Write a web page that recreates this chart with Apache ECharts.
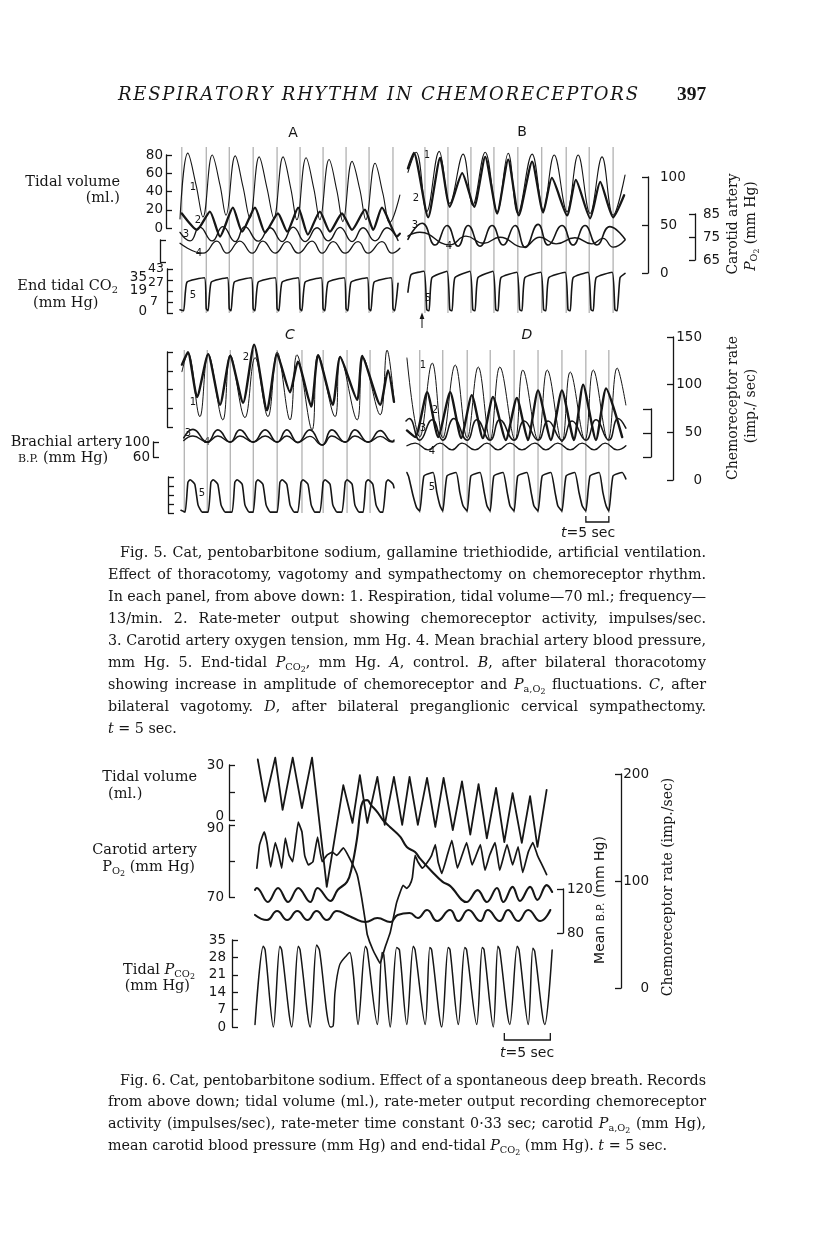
<!DOCTYPE html>
<html><head><meta charset="utf-8">
<script src="https://cdn.jsdelivr.net/npm/echarts@6.0.0/dist/echarts.min.js"></script>
<style>html,body{margin:0;padding:0;background:#fff}#c{width:816px;height:1258px}</style>
</head><body><div id="c"></div>
<script>
// ================= DATA (time in s, values in record units) =================
// Fig. 5 cycle marks
const A_MARKS = [0.4, 5.7, 10.7, 15.9, 21.1, 26.1, 31.1, 36.1, 41.1, 46.3];
const B_MARKS = [3.9, 8.9, 13.9, 18.9, 24.1, 29.3, 34.6, 39.6, 44.8];
const C_MARKS = [0.7, 5.7, 10.7, 15.7, 20.9, 26.3, 30.9, 36.1, 41.1];
const D_MARKS = [3.0, 8.0, 13.3, 18.3, 23.5, 28.7, 33.9, 39.1, 44.1];
// Panel A
const A_TV = [[0,10],[1.7,82],[3.5,47],[5.0,12],[7.0,80],[8.7,47],[10.0,14],[12.0,79],[13.7,45],[15.2,11],[17.2,78],[18.9,44],[20.4,11],[22.4,78],[24.1,43],[25.4,9],[27.4,77],[29.1,43],[30.4,9],[32.4,75],[34.1,41],[35.4,7],[37.4,73],[39.1,42],[40.4,9],[42.4,71],[44.1,38],[45.6,6],[47.8,36]];
const A_RATE = [[0.4,62],[3.7,45],[6.5,64],[8.7,38],[11.5,68],[13.5,43],[16.3,68],[18.5,42],[21.3,62],[23.3,43],[25.7,68],[27.8,40],[30.4,64],[32.6,43],[35.2,62],[37.4,45],[40.2,66],[42.0,45],[43.9,68],[47.2,38],[47.8,41]];
const A_PO2 = [[0,77],[2.2,73.3],[4.3,79.3],[7.0,73.3],[9.3,79.5],[12.0,73],[14.1,79.5],[17.0,73.2],[19.6,79],[22.2,73],[24.6,79.3],[27.2,73],[29.8,79],[32.2,73.3],[34.8,79.2],[37.4,73],[39.8,79],[42.4,73.3],[45.0,79],[47.4,73.5]];
const A_BP = [[0,94],[5.0,76],[8.0,98],[10.2,76],[13.0,98],[15.7,76],[18.0,98],[20.7,76],[23.3,97],[25.7,76],[28.7,98],[30.9,76],[33.3,97],[35.9,76],[38.7,97],[40.9,76],[43.9,97],[46.1,76],[47.8,85]];
const A_CO2 = [[0,3],[0.8,2],[1.5,28],[5.3,32],[5.7,4],[6.1,2],[6.8,28],[10.3,32],[10.7,4],[11.1,2],[11.8,28],[15.5,32],[15.9,4],[16.3,2],[17.0,28],[20.7,32],[21.1,4],[21.5,2],[22.2,28],[25.7,32],[26.1,4],[26.5,2],[27.2,28],[30.7,32],[31.1,4],[31.5,2],[32.2,28],[35.7,32],[36.1,4],[36.5,2],[37.2,28],[40.7,32],[41.1,4],[41.5,2],[42.2,28],[45.9,32],[46.3,4],[46.7,2],[47.4,27]];
// Panel B
const B_TV = [[0.2,61],[2.0,83],[4.3,18],[7.0,84],[9.3,27],[12.2,81],[14.3,25],[17.0,83],[19.6,18],[22.0,82],[24.1,16],[27.2,81],[29.6,20],[32.0,80],[34.8,18],[37.2,80],[39.8,16],[42.4,78],[44.8,14],[47.4,58]];
const B_RATE = [[0.2,109],[1.5,125],[4.6,58],[7.2,120],[9.3,69],[12.0,104],[14.6,69],[17.0,121],[19.6,62],[22.0,118],[24.3,60],[27.2,116],[29.6,63],[31.5,99],[34.8,60],[36.7,97],[39.8,57],[42.0,95],[44.8,58],[47.2,81]];
const B_PO2 = [[0.2,74],[3.3,81],[6.1,71.5],[8.7,80],[11.1,71],[13.3,80],[15.9,71],[18.5,80],[20.9,71.5],[23.5,80],[25.7,70.5],[28.5,80.5],[30.7,71.5],[33.7,80],[36.1,71.5],[38.7,80],[41.3,71.5],[44.1,79.5],[47.4,74]];
const B_BP = [[0.2,107],[2.8,114],[9.3,91],[12.8,107],[16.7,94],[20.2,105],[25.2,87],[28.9,105],[32.4,93],[36.5,104],[40.2,93],[42.6,103],[44.8,87],[47.4,100]];
const B_CO2 = [[0.2,19],[0.9,35],[3.7,38],[4.3,3],[4.8,2],[5.4,32],[8.7,38],[9.3,3],[9.8,2],[10.4,32],[13.7,38],[14.3,3],[14.8,2],[15.4,32],[18.7,38],[19.3,3],[19.8,2],[20.4,32],[23.9,37],[24.5,3],[25.0,2],[25.6,32],[29.1,37],[29.7,3],[30.2,2],[30.8,32],[34.4,37],[35.0,3],[35.5,2],[36.1,32],[39.4,37],[40.0,3],[40.5,2],[41.1,32],[44.6,37],[45.2,3],[45.7,2],[46.3,32],[47.4,36]];
// Panel C
const C_TV = [[0.2,59],[1.5,79],[4.1,11],[5.9,78],[9.1,7.5],[10.7,77],[13.9,10],[16.1,74],[18.9,11],[20.9,80],[23.7,7.5],[25.2,77],[28.5,-3],[29.8,77],[33.5,11],[34.6,75],[38.3,7.5],[39.6,74],[43.3,13],[44.8,82],[46.3,29]];
const C_RATE = [[0.2,121],[1.5,134],[3.5,87],[5.9,132],[8.5,79],[10.7,130],[13.5,81],[15.9,142],[18.7,73],[20.9,132],[23.7,92],[25.4,124],[28.3,77],[29.8,131],[33.0,79],[34.6,129],[38.3,84],[39.4,130],[43.3,79],[45.0,115],[46.3,82]];
const C_PO2 = [[0.6,73],[2.6,76.5],[5.7,71.2],[8.0,76.3],[10.7,71.2],[12.8,76.3],[15.7,71.2],[18.3,76.3],[20.9,71.2],[23.0,76.3],[25.4,71],[28.0,76.3],[30.7,70],[32.8,76.3],[35.7,71.2],[37.8,76.3],[40.7,71.2],[43.3,76],[45.9,71.5],[46.3,72]];
const C_BP = [[0.6,104],[2.6,116],[5.7,100],[8.0,116],[10.7,100],[12.8,116],[15.7,100],[18.3,116],[20.9,100],[23.0,116],[25.4,99],[28.0,115],[30.7,92],[32.8,116],[35.7,100],[37.8,116],[40.7,100],[43.3,115],[45.9,100],[46.3,101]];
const C_CO2 = [[0,3],[0.9,1],[1.5,34],[2.0,37],[3.0,32],[3.7,9],[4.6,1],[5.9,1],[6.5,34],[7.0,37],[8.0,32],[8.7,9],[9.6,1],[11.1,1],[11.7,34],[12.2,37],[13.3,32],[13.9,9],[14.8,1],[15.7,1],[16.3,34],[16.7,37],[17.8,32],[18.5,9],[19.4,1],[20.9,1],[21.5,34],[22.0,37],[23.0,32],[23.7,9],[24.6,1],[25.4,1],[26.1,34],[26.5,37],[27.6,32],[28.3,9],[29.1,1],[30.2,1],[30.9,34],[31.3,37],[32.4,32],[33.0,9],[33.9,1],[35.0,1],[35.7,34],[36.1,37],[37.2,32],[37.8,9],[38.7,1],[39.6,1],[40.2,34],[40.7,37],[41.7,32],[42.4,9],[43.3,1],[43.9,1],[44.6,34],[45.0,37],[46.1,32],[46.3,28]];
// Panel D
const D_TV = [[0.2,82],[3.0,3],[5.7,77],[8.0,2],[10.7,75],[13.3,2],[15.7,73],[18.3,0],[20.4,73],[23.7,0],[25.4,70],[28.7,0],[30.7,70],[33.9,-2],[35.7,68],[38.9,0],[40.7,70],[43.9,0],[45.9,72],[47.8,35]];
const D_RATE = [[0.2,52],[2.0,45],[4.6,92],[7.0,45],[9.6,92],[12.0,44],[14.3,89],[16.7,44],[18.9,87],[21.7,42],[24.1,86],[26.5,42],[28.7,94],[31.5,42],[33.9,94],[36.5,42],[38.5,100],[41.3,42],[43.5,96],[47.0,45]];
const D_PO2 = [[0,80],[0.7,81],[3.0,72],[5.7,80.5],[8.0,72],[10.4,81],[13.3,72],[15.4,80.5],[18.3,72],[20.4,80.5],[23.5,72],[25.7,80],[28.7,72],[30.9,80],[33.9,72],[36.1,80],[39.1,72],[41.3,80.5],[44.1,72],[46.1,81],[47.8,77]];
const D_BP = [[0.2,90],[2.0,97],[4.8,79],[7.4,97],[10.0,79],[12.2,97],[15.0,79],[17.6,97],[20.0,79],[22.6,97],[25.2,79],[28.0,97],[30.4,79],[33.0,97],[35.7,79],[38.3,97],[40.9,79],[43.3,97],[45.9,79],[47.8,90]];
const D_CO2 = [[0.2,45],[0.6,40],[1.5,20],[2.3,6],[3.0,2],[3.9,41],[5.9,45],[6.7,23],[7.4,8],[8.0,2],[8.9,41],[10.9,45],[11.7,23],[12.4,8],[13.3,2],[14.1,41],[16.1,45],[17.0,23],[17.6,8],[18.3,2],[19.1,41],[21.1,45],[22.0,23],[22.6,8],[23.5,2],[24.3,41],[26.3,45],[27.2,23],[27.8,8],[28.7,2],[29.6,41],[31.5,45],[32.4,23],[33.0,8],[33.9,2],[34.8,41],[36.7,45],[37.6,23],[38.3,8],[39.1,2],[40.0,41],[42.0,45],[42.8,23],[43.5,8],[44.1,2],[45.0,41],[47.0,45],[47.8,38]];
const D_BAR = [39.1, 44.1];
// Fig. 6
const F6_TV = [[0.3,33],[1.1,10],[2.2,34],[3.0,5.5],[4.1,34],[5.1,6.5],[6.2,34],[7.8,-36.5],[9.6,19],[10.6,-1.6],[11.4,24.5],[12.2,-1.6],[13.3,23.5],[14.1,-2.7],[15.1,23.5],[16.0,-2.7],[16.8,23.5],[17.7,-2.7],[18.7,23],[19.6,-3.8],[20.5,23],[21.5,-5.5],[22.5,21],[23.4,-8],[24.3,19.6],[25.2,-10],[26.2,17.5],[27.1,-12],[28.0,14.7],[29.0,-12.5],[29.9,13],[30.7,-14.7],[31.7,16.4]];
const F6_RATE = [[0.2,112],[0.5,134],[1.0,146],[1.3,136],[1.7,113],[2.2,136],[2.6,124],[2.9,112],[3.3,140],[3.7,124],[4.1,118],[4.7,155],[5.1,146],[5.4,124],[5.8,115],[6.3,118],[6.8,141],[7.3,118],[7.8,124],[8.4,127],[8.9,124],[9.6,131],[10.3,121],[11.1,106],[11.6,84],[12.0,62],[12.2,50],[12.8,36],[13.6,23],[14.1,37],[14.7,52],[15.4,80],[16.1,96],[16.5,93],[16.8,96],[17.1,103],[17.4,124],[17.7,118],[18.2,112],[18.7,117],[19.2,124],[19.6,134],[19.9,118],[20.3,107],[20.9,124],[21.4,138],[22.0,112],[22.5,124],[23.0,136],[23.6,115],[23.9,121],[24.5,134],[25.0,110],[25.5,124],[26.1,136],[26.6,110],[27.4,134],[28.0,115],[28.6,132],[29.1,108],[29.7,127],[30.2,136],[30.7,124],[31.2,115],[31.7,106]];
const F6_PO2 = [[0,72],[0.2,72.5],[1.4,68.6],[2.5,72.5],[3.6,68.6],[4.7,72.5],[6.0,68.6],[6.8,72.5],[8.2,68.9],[9.0,72],[10.0,74.2],[10.5,78],[11.1,86.4],[11.4,92.8],[11.7,96.4],[12.2,96.9],[12.6,95.6],[13.3,93.6],[13.9,91.4],[14.7,89.4],[15.8,86.7],[16.5,83.9],[17.4,82.5],[17.9,80.8],[19.3,76.9],[20.4,74.2],[21.2,73.1],[23.0,68.6],[24.2,71.9],[25.2,68.6],[26.3,72.5],[27.0,68.6],[28.0,72.8],[28.8,68.9],[29.9,72.8],[30.7,69.2],[31.7,73.3],[32.3,71.4]];
const F6_BP = [[0,96.4],[1.3,91.8],[2.4,100],[3.5,91.8],[4.6,100],[5.7,91.8],[6.7,100],[7.8,91.8],[8.9,100],[10.0,96.4],[10.7,93.6],[12.0,90],[13.3,93.6],[14.7,90],[15.5,96.4],[16.8,98.2],[17.7,93.6],[18.7,100.9],[19.8,90.9],[21.2,100.9],[22.1,90.9],[23.2,100.9],[24.5,90.9],[25.3,100.9],[26.6,90.9],[27.5,100.9],[28.6,90.9],[29.7,100.9],[31.0,90.9],[32.1,100.9]];
const F6_CO2 = [[0,1],[0.9,32.5],[1.1,31],[2.0,0],[2.7,32.5],[2.9,31],[4.0,0],[4.7,32.5],[4.9,31],[6.0,0],[6.7,33],[7.0,31],[8.2,0],[8.5,0.5],[8.7,14],[9.2,25],[10.0,29],[10.3,30],[10.7,21],[11.2,1],[12.0,32.5],[12.2,31],[13.3,1],[13.8,30],[14.0,29],[14.7,0],[15.4,32],[15.7,31],[16.5,1],[17.2,32.5],[17.4,31],[18.5,1],[19.0,32],[19.2,31],[20.3,0],[21.0,32],[21.2,31],[22.1,1],[22.8,32],[23.0,31],[24.1,1],[24.7,32],[24.9,31],[25.9,0],[26.4,32.5],[26.6,31],[27.7,1],[28.5,32.5],[28.7,31],[29.7,1],[30.2,31.7],[30.4,30.5],[31.5,1],[32.3,31]];
const F6_BAR = [27.1, 32.1];
// Scale ticks
const TICKS_TV_U = [0, 20, 40, 60, 80];
const TICKS_RATE_U = [0, 50, 100];
const TICKS_PO2_U = [65, 75, 85];
const TICKS_BP_U = [60, 100];
const TICKS_CO2_U = [0, 10, 20, 30, 40];
const CO2_U_LABELS = [['35', '43'], ['19', '27'], ['0', '7']];
const TICKS_TV_C = [0, 20, 40, 60, 80];
const TICKS_TV_D = [0, 80];
const TICKS_RATE_L = [0, 50, 100, 150];
const TICKS_PO2_L = [65, 75, 85];
const TICKS_BP_L = [60, 100];
const TICKS_CO2_L = [0, 10, 20, 30, 40];
const TICKS_TV6 = [0, 15, 30];
const TICKS_PO2_6 = [70, 80, 90];
const TICKS_CO2_6 = [0, 7, 14, 21, 28, 35];
const TICKS_BP6 = [80, 120];
const TICKS_RATE6 = [0, 100, 200];

// ================= LAYOUT / DRAWING =================
const INK = '#161616';
const SERIF = '"DejaVu Serif", serif';
const SANS = '"DejaVu Sans", sans-serif';
const TFS = 13.5;
const grids = [], xAxes = [], yAxes = [], series = [], G = [];

function addGrid(o) {
  const i = grids.length;
  grids.push({left: o.left, top: o.top, width: o.width, height: o.bottom - o.top, show: false, containLabel: false});
  xAxes.push({type: 'value', gridIndex: i, min: 0, max: o.tmax, show: false});
  const t = o.ticks;
  const ya = {type: 'value', gridIndex: i, min: t[0], max: t[t.length - 1], interval: t[1] - t[0], show: false, splitLine: {show: false}};
  if (o.axis) {
    const a = o.axis;
    const gx = a.pos === 'left' ? o.left : o.left + o.width;
    ya.show = true; ya.position = a.pos;
    ya.offset = a.pos === 'left' ? gx - a.x : a.x - gx;
    ya.axisLine = {show: true, onZero: false, lineStyle: {color: INK, width: 1.3}};
    ya.axisTick = {show: true, inside: true, length: a.tickLen || 6, lineStyle: {color: INK, width: 1.3}};
    const rich = {up: {fontFamily: 'DejaVu Sans', fontSize: TFS, color: INK, padding: [0, 0, 7, 0]},
                  dn: {fontFamily: 'DejaVu Sans', fontSize: TFS, color: INK, padding: [7, 0, 0, 0]}};
    ya.axisLabel = {show: !!a.labels, margin: a.margin || 4, color: INK, fontFamily: 'DejaVu Sans', fontSize: TFS,
      align: a.align, rich: rich,
      formatter: v => (a.hide && a.hide.indexOf(v) >= 0) ? '' : (a.up && a.up.indexOf(v) >= 0) ? '{up|' + v + '}' : (a.dn && a.dn.indexOf(v) >= 0) ? '{dn|' + v + '}' : String(v)};
  }
  yAxes.push(ya);
  return i;
}
function trace(gi, data, w, smooth) {
  series.push({type: 'line', xAxisIndex: gi, yAxisIndex: gi, data: data, symbol: 'none', showSymbol: false,
    smooth: smooth || false, clip: false, silent: true, animation: false, z: 3,
    lineStyle: {color: INK, width: w, cap: 'round', join: 'round'}});
}
function marks(gi, data) {
  series.push({type: 'custom', xAxisIndex: gi, yAxisIndex: gi, data: data.map(t => [t, 0]), silent: true, animation: false, clip: false, z: 1,
    renderItem: (p, api) => { const cs = p.coordSys; const x = api.coord([api.value(0), 0])[0];
      return {type: 'line', shape: {x1: x, y1: cs.y, x2: x, y2: cs.y + cs.height}, style: {stroke: '#8e8e8e', lineWidth: 0.9}}; }});
}
function timeBar(gi, span) {
  series.push({type: 'custom', xAxisIndex: gi, yAxisIndex: gi, data: [[span[0], span[1]]], silent: true, animation: false, clip: false,
    renderItem: (p, api) => { const cs = p.coordSys; const x0 = api.coord([api.value(0), 0])[0]; const x1 = api.coord([api.value(1), 0])[0];
      return {type: 'polyline', shape: {points: [[x0, cs.y], [x0, cs.y + cs.height], [x1, cs.y + cs.height], [x1, cs.y]]}, style: {stroke: INK, lineWidth: 1.3, fill: null}}; }});
}

// ---- text helpers ----
const cx2 = document.createElement('canvas').getContext('2d');
function fstr(f) { return (f.style || 'normal') + ' ' + (f.weight || 'normal') + ' ' + f.size.toFixed(2) + 'px ' + f.family; }
function tw(t, f) { cx2.font = fstr(f); return cx2.measureText(t).width; }
function parseWord(w, base) {
  const runs = []; const re = /~([^~]+)~|_\{([^}]*)\}|#\{([^}]*)\}|!\{([^}]*)\}|([^~_#!]+)/g; let m;
  while ((m = re.exec(w))) {
    if (m[1] !== undefined) runs.push({t: m[1], f: Object.assign({}, base, {style: 'italic'}), dy: 0});
    else if (m[2] !== undefined) runs.push({t: m[2], f: Object.assign({}, base, {size: base.size * 0.68}), dy: base.size * 0.28});
    else if (m[3] !== undefined) runs.push({t: m[3], f: Object.assign({}, base, {size: base.size * 0.55}), dy: base.size * 0.46});
    else if (m[4] !== undefined) runs.push({t: m[4], f: Object.assign({}, base, {size: base.size * 0.76}), dy: base.size * 0.1});
    else runs.push({t: m[5], f: base, dy: 0});
  }
  return runs;
}
function natW(text, base) {
  const words = text.split(' ');
  return words.map(w => parseWord(w, base).reduce((s, q) => s + tw(q.t, q.f), 0)).reduce((a, b) => a + b, 0) + tw(' ', base) * (words.length - 1);
}
function fit(text, family, target, extra) { const b = Object.assign({size: 20, family: family}, extra || {}); b.size = 20 * target / natW(text, b); return b; }
function layout(text, base, opt, out) {
  const words = text.split(' ');
  const W = words.map(w => parseWord(w, base));
  const ww = W.map(r => r.reduce((s, q) => s + tw(q.t, q.f), 0));
  const sumw = ww.reduce((a, b) => a + b, 0);
  let gap = tw(' ', base);
  if (opt.x1 !== undefined && words.length > 1) gap = (opt.x1 - opt.x - sumw) / (words.length - 1);
  const total = sumw + gap * (words.length - 1);
  let x = opt.x;
  if (opt.align === 'right') x = opt.x - total; else if (opt.align === 'center') x = opt.x - total / 2;
  W.forEach(runs => {
    runs.forEach(r => { out.push({type: 'text', x: x, y: opt.y + r.dy, silent: true,
      style: {text: r.t, font: fstr(r.f), fill: INK, align: 'left', verticalAlign: 'middle'}}); x += tw(r.t, r.f); });
    x += gap;
  });
}
function spaced(text, f, x0, x1, y) {
  const ch = text.split(''); const ws = ch.map(c => tw(c, f)); const tot = ws.reduce((a, b) => a + b, 0);
  const ls = (x1 - x0 - tot) / (ch.length - 1); let x = x0;
  ch.forEach((c, i) => { if (c !== ' ') G.push({type: 'text', x: x, y: y, silent: true, style: {text: c, font: fstr(f), fill: INK, align: 'left', verticalAlign: 'middle'}}); x += ws[i] + ls; });
}
function rotated(text, base, cx, cy) {
  const kids = []; layout(text, base, {x: 0, y: 0, align: 'center'}, kids);
  G.push({type: 'group', x: cx, y: cy, rotation: Math.PI / 2, silent: true, children: kids});
}
function txt(text, x, y, f, align) { layout(text, f, {x: x, y: y, align: align || 'left'}, G); }

// ---------- Fig. 5 panels ----------
const W5 = 48 * 4.6;
function P(left) { return {left: left, width: W5, tmax: 48}; }
const pA = P(180), pB = P(407), pC = P(181), pD = P(406);
function G5(p, top, bottom, ticks, axis) { return addGrid(Object.assign({}, p, {top: top, bottom: bottom, ticks: ticks, axis: axis})); }

// A
marks(G5(pA, 147, 313, [0, 1]), A_MARKS);
trace(G5(pA, 155, 228, TICKS_TV_U, {pos: 'left', x: 166, labels: true, margin: 3}), A_TV, 1.1, 0.4);
trace(G5(pA, 177, 273, TICKS_RATE_U), A_RATE, 2.3, 0.2);
trace(G5(pA, 214, 260, TICKS_PO2_U), A_PO2, 1.4, 0.5);
trace(G5(pA, 240, 262, TICKS_BP_U, {pos: 'left', x: 160}), A_BP, 1.3, 0.5);
trace(G5(pA, 269, 313, TICKS_CO2_U, {pos: 'left', x: 167}), A_CO2, 1.6, 0.15);
// B
marks(G5(pB, 147, 313, [0, 1]), B_MARKS);
trace(G5(pB, 155, 228, TICKS_TV_U), B_TV, 1.1, 0.4);
trace(G5(pB, 177, 273, TICKS_RATE_U, {pos: 'right', x: 648, labels: true, margin: 12}), B_RATE, 2.3, 0.2);
trace(G5(pB, 214, 260, TICKS_PO2_U, {pos: 'right', x: 695, labels: true, margin: 8}), B_PO2, 1.6, 0.5);
trace(G5(pB, 240, 262, TICKS_BP_U), B_BP, 1.4, 0.5);
trace(G5(pB, 269, 313, TICKS_CO2_U), B_CO2, 1.6, 0.15);
// C
marks(G5(pC, 350, 513, [0, 1]), C_MARKS);
trace(G5(pC, 352, 427, TICKS_TV_C, {pos: 'left', x: 167}), C_TV, 1.0, 0.4);
trace(G5(pC, 337, 480, TICKS_RATE_L), C_RATE, 2.4, 0.2);
trace(G5(pC, 409, 457, TICKS_PO2_L), C_PO2, 1.6, 0.5);
trace(G5(pC, 442, 457, TICKS_BP_L, {pos: 'left', x: 153, labels: true, margin: 3}), C_BP, 1.4, 0.5);
trace(G5(pC, 477, 513, TICKS_CO2_L, {pos: 'left', x: 168}), C_CO2, 1.6, 0.15);
// D
marks(G5(pD, 350, 513, [0, 1]), D_MARKS);
trace(G5(pD, 360, 440, TICKS_TV_D), D_TV, 1.0, 0.4);
trace(G5(pD, 337, 480, TICKS_RATE_L, {pos: 'right', x: 673, labels: true, margin: 29, align: 'right'}), D_RATE, 2.4, 0.2);
trace(G5(pD, 409, 457, TICKS_PO2_L, {pos: 'right', x: 651, tickLen: 8}), D_PO2, 1.5, 0.5);
trace(G5(pD, 442, 457, TICKS_BP_L), D_BP, 1.4, 0.5);
trace(G5(pD, 477, 513, TICKS_CO2_L), D_CO2, 1.6, 0.15);
timeBar(G5(pD, 516, 522, [0, 1]), D_BAR);

// ---------- Fig. 6 ----------
const p6 = {left: 255, width: 33.5 * 9.2, tmax: 33.5};
function G6(top, bottom, ticks, axis) { return addGrid(Object.assign({}, p6, {top: top, bottom: bottom, ticks: ticks, axis: axis})); }
trace(G6(765, 820, TICKS_TV6, {pos: 'left', x: 229, labels: true, margin: 5, hide: [15], up: [0]}), F6_TV, 1.8, false);
trace(G6(774, 988, TICKS_RATE6, {pos: 'right', x: 621, labels: true, margin: 28, align: 'right'}), F6_RATE, 1.7, 0.1);
trace(G6(825, 897, TICKS_PO2_6, {pos: 'left', x: 229, labels: true, margin: 5, hide: [80], dn: [90]}), F6_PO2, 2.1, 0.4);
trace(G6(889, 933, TICKS_BP6, {pos: 'right', x: 563, labels: true, margin: 4}), F6_BP, 2.1, 0.5);
trace(G6(940, 1027, TICKS_CO2_6, {pos: 'left', x: 232, labels: true, margin: 6}), F6_CO2, 1.5, 0.3);
timeBar(G6(1033, 1040, [0, 1]), F6_BAR);

// ---------- Texts ----------
const FT = {size: 14, family: SANS};
const FN = {size: 10, family: SANS};
const FL = {size: 14.5, family: SERIF};
const FR = {size: 14, family: SERIF};
spaced('RESPIRATORY RHYTHM IN CHEMORECEPTORS', {style: 'italic', size: 18, family: SERIF}, 118, 638, 95);
txt('397', 677, 95, {weight: 'bold', size: 19.5, family: '"Liberation Serif", serif'});
txt('A', 293, 133, FT, 'center'); txt('B', 522, 132, FT, 'center');
txt('~C~', 290, 335, FT, 'center'); txt('~D~', 527, 335, FT, 'center');
// Fig 5 left labels
txt('Tidal volume', 120, 182, FL, 'right');
txt('(ml.)', 120, 198, FL, 'right');
txt('End tidal CO_{2}', 118, 286, FL, 'right');
txt('(mm Hg)', 33, 303, FL);
txt('Brachial artery', 122, 442, FL, 'right');
txt('!{B.P.} (mm Hg)', 18, 458, FL);
const co2Y = [[277, 269], [290, 283], [311, 302]];
CO2_U_LABELS.forEach((pr, i) => { txt(pr[0], 147, co2Y[i][0], {size: 13.5, family: SANS}, 'right'); txt(pr[1], i === 2 ? 150 : 148, co2Y[i][1], {size: 12.5, family: SANS}); });
// trace numbers
[['1',193,187],['2',198,220],['3',186,234],['4',199,253],['5',193,295],
 ['1',427,155],['2',416,198],['3',415,225],['4',449,246],['5',428,298],
 ['1',193,402],['2',246,357],['3',188,433],['4',207,442],['5',202,493],
 ['1',423,365],['2',435,410],['3',423,428],['4',432,451],['5',432,487]].forEach(a => txt(a[0], a[1], a[2], FN, 'center'));
// arrow under B
G.push({type: 'line', silent: true, shape: {x1: 422, y1: 316, x2: 422, y2: 328}, style: {stroke: INK, lineWidth: 1}});
G.push({type: 'polygon', silent: true, shape: {points: [[419.6, 319], [422, 312.5], [424.4, 319]]}, style: {fill: INK}});
// rotated right labels
rotated('Carotid artery', FR, 733, 224);
rotated('~P~_{O}#{2} (mm Hg)', FR, 751, 226);
rotated('Chemoreceptor rate', FR, 733, 408);
rotated('(imp./ sec)', FR, 751, 406);
txt('~t~=5 sec', 588, 533, FT, 'center');
// Fig 5 caption
const CAP5 = [
  'Fig. 5. Cat, pentobarbitone sodium, gallamine triethiodide, artificial ventilation.',
  'Effect of thoracotomy, vagotomy and sympathectomy on chemoreceptor rhythm.',
  'In each panel, from above down: 1. Respiration, tidal volume\u201470 ml.; frequency\u2014',
  '13/min. 2. Rate-meter output showing chemoreceptor activity, impulses/sec.',
  '3. Carotid artery oxygen tension, mm Hg. 4. Mean brachial artery blood pressure,',
  'mm Hg. 5. End-tidal ~P~_{CO}#{2}, mm Hg. ~A~, control. ~B~, after bilateral thoracotomy',
  'showing increase in amplitude of chemoreceptor and ~P~_{a,O}#{2} fluctuations. ~C~, after',
  'bilateral vagotomy. ~D~, after bilateral preganglionic cervical sympathectomy.',
  '~t~ = 5 sec.'];
const FCAP = fit(CAP5[0], SERIF, 706 - 120 - 6);
CAP5.forEach((l, i) => layout(l, FCAP, {x: i === 0 ? 120 : 108, x1: i < 8 ? 706 : undefined, y: 553 + 22 * i}, G));
// Fig 6 labels
txt('Tidal volume', 197, 777, FL, 'right');
txt('(ml.)', 108, 794, FL);
txt('Carotid artery', 197, 850, FL, 'right');
txt('P_{O}#{2} (mm Hg)', 195, 867, FL, 'right');
txt('Tidal ~P~_{CO}#{2}', 195, 970, FL, 'right');
txt('(mm Hg)', 190, 986, FL, 'right');
rotated('Mean !{B.P.} (mm Hg)', {size: 14, family: SANS}, 600, 900);
rotated('Chemoreceptor rate (imp./sec)', FR, 668, 887);
txt('~t~=5 sec', 527, 1053, FT, 'center');
const CAP6 = [
  'Fig. 6. Cat, pentobarbitone sodium. Effect of a spontaneous deep breath. Records',
  'from above down; tidal volume (ml.), rate-meter output recording chemoreceptor',
  'activity (impulses/sec), rate-meter time constant 0\u00b733 sec; carotid ~P~_{a,O}#{2} (mm Hg),',
  'mean carotid blood pressure (mm Hg) and end-tidal ~P~_{CO}#{2} (mm Hg). ~t~ = 5 sec.'];
CAP6.forEach((l, i) => layout(l, FCAP, {x: i === 0 ? 120 : 108, x1: i < 3 ? 706 : undefined, y: 1081 + 21.7 * i}, G));

const chart = echarts.init(document.getElementById('c'), null, {renderer: 'canvas', width: 816, height: 1258});
chart.setOption({animation: false, backgroundColor: '#fff', grid: grids, xAxis: xAxes, yAxis: yAxes, series: series, graphic: {elements: G}});
</script></body></html>
